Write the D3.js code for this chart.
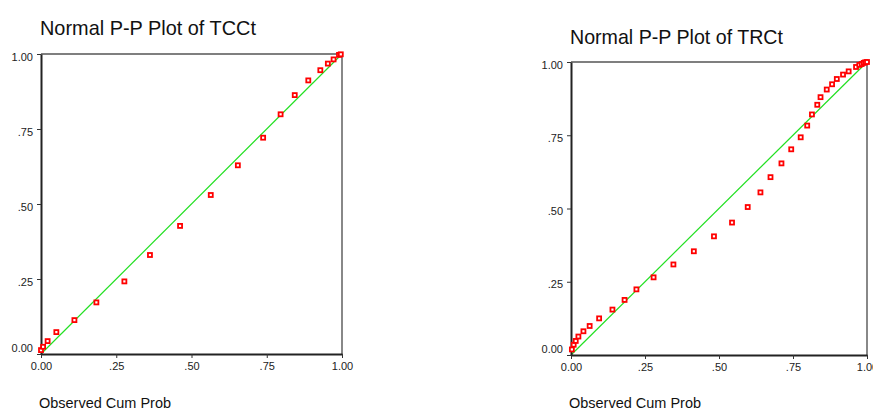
<!DOCTYPE html>
<html>
<head>
<meta charset="utf-8">
<script src="https://cdn.jsdelivr.net/npm/d3@7"></script>
<style>
  body { margin: 0; background: #fff; }
  svg { display: block; font-family: Arial, "Liberation Sans", sans-serif; }
</style>
</head>
<body>
<div id="vis"></div>
<script>
// observed vs expected cumulative probability
var tccObs = [0.000, 0.007, 0.022, 0.051, 0.111, 0.184, 0.277, 0.362, 0.462, 0.564,
              0.654, 0.738, 0.796, 0.843, 0.888, 0.928, 0.953, 0.972, 0.990, 0.996];
var tccExp = [0.013, 0.024, 0.043, 0.073, 0.113, 0.172, 0.242, 0.330, 0.427, 0.530,
              0.629, 0.721, 0.799, 0.863, 0.912, 0.946, 0.968, 0.982, 0.997, 0.999];

var trcObs = [0.003, 0.009, 0.016, 0.025, 0.042, 0.063, 0.095, 0.140, 0.181, 0.221,
              0.279, 0.346, 0.415, 0.483, 0.544, 0.597, 0.640, 0.674, 0.711, 0.744,
              0.776, 0.798, 0.814, 0.832, 0.843, 0.864, 0.882, 0.898, 0.919, 0.938,
              0.963, 0.974, 0.982, 0.989, 0.994, 1.000];
var trcExp = [0.019, 0.035, 0.048, 0.063, 0.081, 0.099, 0.125, 0.155, 0.188, 0.224,
              0.265, 0.309, 0.354, 0.405, 0.452, 0.505, 0.555, 0.607, 0.654, 0.702,
              0.743, 0.783, 0.821, 0.854, 0.880, 0.906, 0.924, 0.942, 0.957, 0.968,
              0.983, 0.990, 0.993, 0.997, 0.999, 1.000];

var tickValues = [0, 0.25, 0.5, 0.75, 1];
var xTitle = "Observed Cum Prob";

var svg = d3.select('#vis').append('svg')
    .attr('width', 873)
    .attr('height', 410);

function fmt(v) {
    if (v === 0) return "0.00";
    if (v === 1) return "1.00";
    return d3.format(".2f")(v).replace(/^0/, "");
}

function ppPlot(opts) {
    var x = d3.scaleLinear().domain([0, 1]).range([opts.left, opts.right]);
    var y = d3.scaleLinear().domain([0, 1]).range([opts.bottom, opts.top]);
    var g = svg.append('g');

    // title
    g.append('text')
        .attr('x', opts.left - 1)
        .attr('y', opts.titleY)
        .attr('font-size', 21)
        .attr('textLength', opts.titleW)
        .attr('lengthAdjust', 'spacingAndGlyphs')
        .attr('fill', '#111')
        .text(opts.title);

    // top and right frame
    g.append('line')
        .attr('x1', opts.left).attr('x2', opts.right)
        .attr('y1', opts.top).attr('y2', opts.top)
        .attr('stroke', '#555').attr('stroke-width', 1.5);
    g.append('line')
        .attr('x1', opts.right).attr('x2', opts.right)
        .attr('y1', opts.top).attr('y2', opts.bottom)
        .attr('stroke', '#888').attr('stroke-width', 2);

    // reference diagonal
    g.append('line')
        .attr('x1', x(0)).attr('y1', y(0))
        .attr('x2', x(1)).attr('y2', y(1))
        .attr('stroke', '#22e022').attr('stroke-width', 1.2);

    // axes
    var ax = g.append('g')
        .attr('transform', 'translate(0,' + opts.bottom + ')')
        .call(d3.axisBottom(x).tickValues(tickValues).tickFormat(fmt).tickSize(4).tickSizeOuter(0));
    var ay = g.append('g')
        .attr('transform', 'translate(' + opts.left + ',0)')
        .call(d3.axisLeft(y).tickValues(tickValues).tickFormat(fmt).tickSize(4).tickSizeOuter(0));

    [ax, ay].forEach(function (a) {
        a.select('.domain').attr('stroke', '#222').attr('stroke-width', 2);
        a.selectAll('.tick line').attr('stroke', '#333');
        a.selectAll('.tick text')
            .attr('font-family', 'Arial, "Liberation Sans", sans-serif')
            .attr('font-size', 11)
            .attr('fill', '#222');
    });
    ax.selectAll('.tick text').attr('y', 8).attr('dy', '0.71em');
    ay.selectAll('.tick text')
        .attr('x', -8)
        .attr('dy', function (d) { return d === 0 ? '-0.2em' : '0.55em'; });

    // points
    var pts = opts.obs.map(function (v, i) { return [v, opts.exp[i]]; });
    g.append('g').selectAll('rect')
        .data(pts)
        .enter()
        .append('rect')
        .attr('x', function (d) { return x(d[0]) - 2; })
        .attr('y', function (d) { return y(d[1]) - 2; })
        .attr('width', 4)
        .attr('height', 4)
        .attr('fill', '#fff')
        .attr('stroke', '#f00')
        .attr('stroke-width', 1.8);

    // x title
    g.append('text')
        .attr('x', opts.left - 2)
        .attr('y', 408)
        .attr('font-size', 14)
        .attr('textLength', 132)
        .attr('lengthAdjust', 'spacingAndGlyphs')
        .attr('fill', '#111')
        .text(xTitle);
}

ppPlot({
    title: "Normal P-P Plot of TCCt", titleY: 35, titleW: 216,
    left: 41, right: 342, top: 54, bottom: 354,
    obs: tccObs, exp: tccExp
});

ppPlot({
    title: "Normal P-P Plot of TRCt", titleY: 44, titleW: 213,
    left: 571, right: 867, top: 62, bottom: 355,
    obs: trcObs, exp: trcExp
});
</script>
</body>
</html>
